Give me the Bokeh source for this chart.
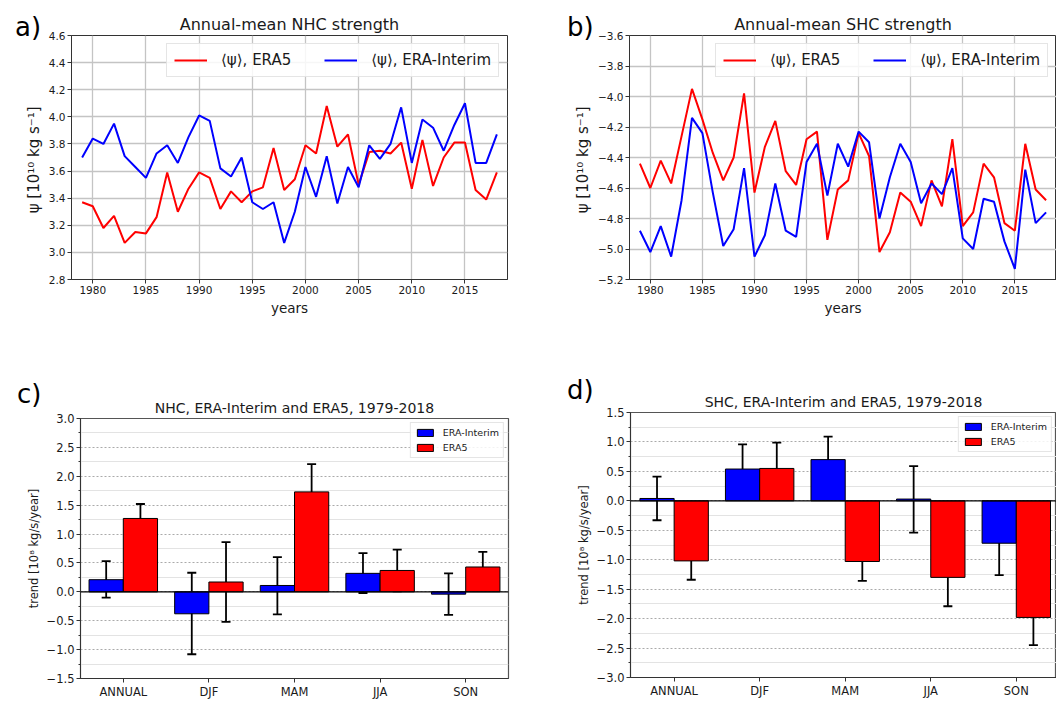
from bokeh.plotting import figure
from bokeh.models import (ColumnDataSource, Legend, LegendItem, FixedTicker, Div, GridBox,
                          CustomJSTickFormatter, Whisker, TeeHead, Span, Range1d)
from bokeh.layouts import column, row
from bokeh.embed import file_html
from bokeh.resources import INLINE

# ---------------- data ----------------
years = list(range(1979, 2019))
nhc_era5 = [3.37, 3.34, 3.18, 3.27, 3.07, 3.15, 3.14, 3.26, 3.59, 3.30,
            3.47, 3.59, 3.55, 3.32, 3.45, 3.37, 3.45, 3.48, 3.77, 3.46,
            3.54, 3.79, 3.73, 4.08, 3.78, 3.87, 3.50, 3.74, 3.75, 3.73,
            3.81, 3.47, 3.83, 3.49, 3.70, 3.81, 3.81, 3.46, 3.39, 3.59]
nhc_erai = [3.70, 3.84, 3.80, 3.95, 3.71, 3.63, 3.55, 3.73, 3.79, 3.66,
            3.85, 4.01, 3.97, 3.62, 3.56, 3.70, 3.37, 3.32, 3.37, 3.07,
            3.30, 3.63, 3.41, 3.71, 3.36, 3.63, 3.48, 3.79, 3.69, 3.80,
            4.07, 3.66, 3.98, 3.92, 3.75, 3.94, 4.10, 3.66, 3.66, 3.87]
shc_era5 = [-4.44, -4.60, -4.42, -4.57, -4.26, -3.95, -4.15, -4.37, -4.55, -4.40,
            -3.98, -4.63, -4.33, -4.16, -4.49, -4.58, -4.28, -4.23, -4.94, -4.61,
            -4.55, -4.24, -4.39, -5.02, -4.89, -4.63, -4.69, -4.85, -4.55, -4.72,
            -4.28, -4.85, -4.76, -4.44, -4.53, -4.83, -4.88, -4.31, -4.61, -4.68]
shc_erai = [-4.88, -5.02, -4.85, -5.05, -4.68, -4.14, -4.24, -4.63, -4.98, -4.87,
            -4.47, -5.05, -4.91, -4.57, -4.88, -4.92, -4.43, -4.31, -4.65, -4.31,
            -4.46, -4.23, -4.30, -4.80, -4.53, -4.31, -4.43, -4.70, -4.57, -4.64,
            -4.47, -4.93, -5.00, -4.67, -4.69, -4.95, -5.13, -4.48, -4.83, -4.76]
year_ticks = [1980, 1985, 1990, 1995, 2000, 2005, 2010, 2015]
nhc_yticks = [2.8, 3.0, 3.2, 3.4, 3.6, 3.8, 4.0, 4.2, 4.4, 4.6]
shc_yticks = [-5.2, -5.0, -4.8, -4.6, -4.4, -4.2, -4.0, -3.8, -3.6]

seasons = ["ANNUAL", "DJF", "MAM", "JJA", "SON"]
nhc_trend_erai = [0.21, -0.38, 0.11, 0.32, -0.04]
nhc_trend_erai_lo = [-0.10, -1.08, -0.39, -0.02, -0.40]
nhc_trend_erai_hi = [0.53, 0.33, 0.60, 0.67, 0.32]
nhc_trend_era5 = [1.27, 0.17, 1.73, 0.37, 0.43]
nhc_trend_era5_lo = [1.01, -0.52, 1.25, 0.01, 0.18]
nhc_trend_era5_hi = [1.52, 0.86, 2.21, 0.73, 0.69]

shc_trend_erai = [0.04, 0.54, 0.70, 0.03, -0.72]
shc_trend_erai_lo = [-0.33, 0.11, 0.30, -0.54, -1.26]
shc_trend_erai_hi = [0.41, 0.96, 1.09, 0.59, -0.15]
shc_trend_era5 = [-1.02, 0.55, -1.03, -1.30, -1.98]
shc_trend_era5_lo = [-1.34, 0.11, -1.36, -1.79, -2.45]
shc_trend_era5_hi = [-0.70, 0.99, -0.70, -0.80, -1.51]
nhc_bar_major = [-1.5, -1.0, -0.5, 0.0, 0.5, 1.0, 1.5, 2.0, 2.5, 3.0]
nhc_bar_minor = [-1.25, -0.75, -0.25, 0.25, 0.75, 1.25, 1.75, 2.25, 2.75]
shc_bar_major = [-3.0, -2.5, -2.0, -1.5, -1.0, -0.5, 0.0, 0.5, 1.0, 1.5]
shc_bar_minor = [-2.75, -2.25, -1.75, -1.25, -0.75, -0.25, 0.25, 0.75, 1.25]
panel_labels = ["a)", "b)", "c)", "d)"]

FONT = "DejaVu Sans"
TXT = "#1a1a1a"
BLUE = "#0000ff"
RED = "#ff0000"


def minus_fmt():
    return CustomJSTickFormatter(code="return tick.toFixed(1).replace('-', '\\u2212');")


def style_axes(p, tick_size):
    for ax in (p.xaxis[0], p.yaxis[0]):
        ax.major_label_text_font = FONT
        ax.major_label_text_font_size = tick_size
        ax.major_label_text_color = TXT
        ax.axis_label_text_font = FONT
        ax.axis_label_text_font_style = "normal"
        ax.axis_label_text_color = TXT
        ax.major_tick_in = 0
        ax.major_tick_out = 4
        ax.major_tick_line_color = "#333333"
        ax.axis_line_color = "#333333"
        ax.major_label_standoff = 2
        ax.axis_label_standoff = 3


def with_label(p, text, dx, top):
    html = ('<div style="padding-left:%dpx;padding-top:%dpx;font-family:\'DejaVu Sans\';'
            'font-size:26px;line-height:26px;color:#000;white-space:nowrap;">%s</div>'
            % (dx, top, text))
    d = Div(text=html, width=50, height=50)
    return GridBox(children=[(p, 0, 0), (d, 0, 0)], spacing=0)


def line_panel(title, red, blue, ymin, ymax, yticks, width, left, right):
    p = figure(width=width, height=350, x_range=Range1d(1978, 2019),
               y_range=Range1d(ymin, ymax), output_backend="svg", toolbar_location=None,
               min_border_left=left, min_border_right=right, min_border_top=35,
               min_border_bottom=71)
    p.title.text = title
    p.title.align = "center"
    p.title.text_font = FONT
    p.title.text_font_size = "16px"
    p.title.text_font_style = "normal"
    p.title.text_color = TXT
    p.title.standoff = 3
    r1 = p.line(years, red, line_color=RED, line_width=2)
    r2 = p.line(years, blue, line_color=BLUE, line_width=2)
    leg = Legend(items=[LegendItem(label="⟨ψ⟩, ERA5", renderers=[r1]),
                        LegendItem(label="⟨ψ⟩, ERA-Interim", renderers=[r2])],
                 orientation="horizontal", location="top_right",
                 label_text_font=FONT, label_text_font_size="15px", label_text_color=TXT,
                 glyph_width=33, glyph_height=16, label_height=16, label_standoff=14,
                 spacing=33, padding=7, margin=8,
                 border_line_color="#cccccc", border_line_width=1,
                 background_fill_alpha=0.85)
    p.add_layout(leg)
    p.xaxis.ticker = FixedTicker(ticks=year_ticks)
    p.yaxis.ticker = FixedTicker(ticks=yticks)
    p.yaxis.formatter = minus_fmt()
    p.xaxis.axis_label = "years"
    p.yaxis.axis_label = "ψ [10¹⁰  kg s⁻¹]"
    style_axes(p, "10.5px")
    p.xaxis.axis_label_text_font_size = "13.5px"
    p.yaxis.axis_label_text_font_size = "15px"
    p.axis.minor_tick_line_color = None
    p.grid.grid_line_color = "#c4c4c4"
    p.grid.grid_line_width = 1.3
    p.outline_line_color = "#333333"
    p.outline_line_width = 1
    return p


def bar_panel(title, ei, ei_lo, ei_hi, e5, e5_lo, e5_hi, ymin, ymax, major, minor,
              width, left, right, top, bottom, xr):
    idx = list(range(len(seasons)))
    src_b = ColumnDataSource(dict(x=[i - 0.2 for i in idx], v=ei, lo=ei_lo, hi=ei_hi))
    src_r = ColumnDataSource(dict(x=[i + 0.2 for i in idx], v=e5, lo=e5_lo, hi=e5_hi))
    p = figure(width=width, height=351, x_range=Range1d(*xr), y_range=Range1d(ymin, ymax),
               output_backend="svg", toolbar_location=None,
               min_border_left=left, min_border_right=right, min_border_top=top,
               min_border_bottom=bottom)
    p.title.text = title
    p.title.align = "center"
    p.title.text_font = FONT
    p.title.text_font_size = "14px"
    p.title.text_font_style = "normal"
    p.title.text_color = TXT
    p.title.standoff = 5
    rb = p.vbar(x="x", top="v", bottom=0, width=0.4, source=src_b, fill_color=BLUE,
                line_color="black", line_width=1)
    rr = p.vbar(x="x", top="v", bottom=0, width=0.4, source=src_r, fill_color=RED,
                line_color="black", line_width=1)
    p.add_layout(Span(location=0, dimension="width", line_color="black", line_width=1.2))
    for src in (src_b, src_r):
        p.add_layout(Whisker(source=src, base="x", lower="lo", upper="hi",
                             line_color="black", line_width=1.8,
                             upper_head=TeeHead(size=9, line_color="black", line_width=1.8),
                             lower_head=TeeHead(size=9, line_color="black", line_width=1.8)))
    leg = Legend(items=[LegendItem(label="ERA-Interim", renderers=[rb]),
                        LegendItem(label="ERA5", renderers=[rr])],
                 location="top_right", label_text_font=FONT, label_text_font_size="9.5px",
                 label_text_color=TXT, glyph_width=20, glyph_height=9, label_height=10,
                 label_standoff=8, spacing=4, padding=4, margin=4,
                 border_line_color="#cccccc", border_line_width=1,
                 background_fill_alpha=0.85)
    p.add_layout(leg)
    p.xaxis.ticker = FixedTicker(ticks=idx)
    p.xaxis.formatter = CustomJSTickFormatter(args=dict(names=seasons),
                                              code="return names[Math.round(tick)];")
    p.yaxis.ticker = FixedTicker(ticks=major, minor_ticks=minor)
    p.yaxis.formatter = minus_fmt()
    p.yaxis.axis_label = "trend [10⁸ kg/s/year]"
    style_axes(p, "11.5px")
    p.yaxis.axis_label_text_font_size = "11.5px"
    p.xaxis.minor_tick_line_color = None
    p.yaxis.minor_tick_in = 0
    p.yaxis.minor_tick_out = 2
    p.yaxis.minor_tick_line_color = "#333333"
    p.xgrid.grid_line_color = None
    p.ygrid.grid_line_color = "#aaaaaa"
    p.ygrid.grid_line_dash = "2 2"
    p.ygrid.grid_line_width = 1
    p.ygrid.minor_grid_line_color = "#e3e3e3"
    p.ygrid.minor_grid_line_width = 1
    p.outline_line_color = "#555555"
    p.outline_line_width = 1.2
    return p


pa = line_panel("Annual-mean NHC strength", nhc_era5, nhc_erai, 2.8, 4.6, nhc_yticks,
                540, 71, 33)
pb = line_panel("Annual-mean SHC strength", shc_era5, shc_erai, -5.2, -3.6, shc_yticks,
                516, 89, 0)
pc = bar_panel("NHC, ERA-Interim and ERA5, 1979-2018", nhc_trend_erai, nhc_trend_erai_lo,
               nhc_trend_erai_hi, nhc_trend_era5, nhc_trend_era5_lo, nhc_trend_era5_hi,
               -1.5, 3.0, nhc_bar_major, nhc_bar_minor, 540, 80, 32, 68, 18, (-0.5, 4.5))
pd = bar_panel("SHC, ERA-Interim and ERA5, 1979-2018", shc_trend_erai, shc_trend_erai_lo,
               shc_trend_erai_hi, shc_trend_era5, shc_trend_era5_lo, shc_trend_era5_hi,
               -3.0, 1.5, shc_bar_major, shc_bar_minor, 516, 90, 0, 62, 24, (-0.51, 4.47))

ga = with_label(pa, panel_labels[0], 10, 9)
gb = with_label(pb, panel_labels[1], 22, 9)
gc = with_label(pc, panel_labels[2], 12, 26)
gd = with_label(pd, panel_labels[3], 22, 22)

layout = column(row(ga, gb), row(gc, gd))
open("out.html", "w").write(file_html(layout, INLINE))
